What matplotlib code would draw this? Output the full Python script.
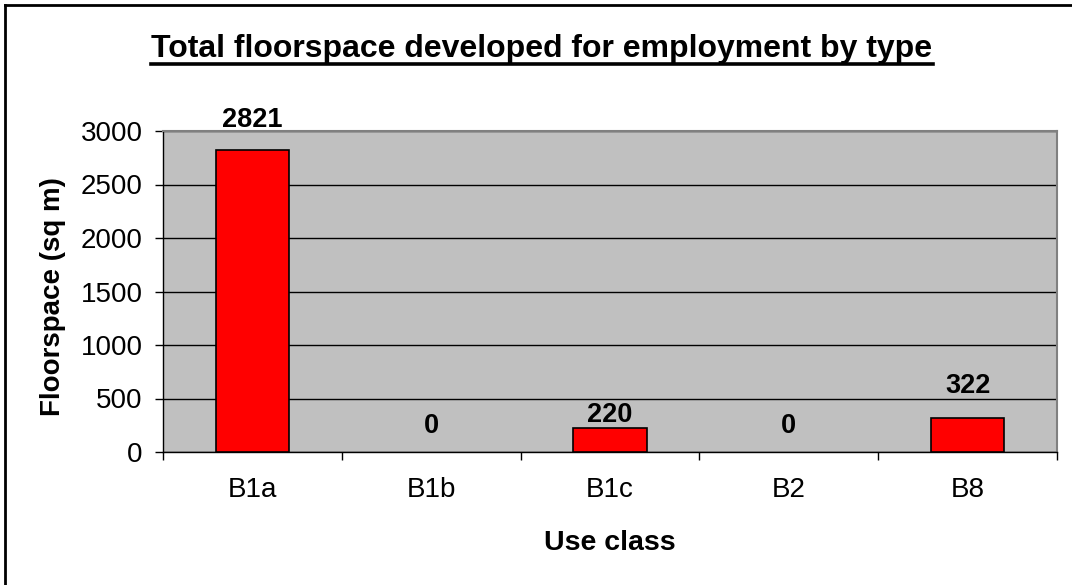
import matplotlib
matplotlib.use("Agg")
import matplotlib.pyplot as plt
from matplotlib.lines import Line2D

categories = ["B1a", "B1b", "B1c", "B2", "B8"]
values = [2821, 0, 220, 0, 322]
yticks = [0, 500, 1000, 1500, 2000, 2500, 3000]

# styling: vertical gap (points) between bar top and label baseline, as in the original
label_gaps = [16.5, 13.7, 4.3, 13.7, 18.0]

plt.rcParams['font.family'] = ['Liberation Sans', 'DejaVu Sans']

W, H = 1072, 585
fig = plt.figure(figsize=(W/100, H/100), dpi=100)
ax = fig.add_axes([163/W, 1-452/H, (1057-163)/W, (452-131)/H])
ax.set_facecolor('#c0c0c0')

x = list(range(len(categories)))
edges = ['black' if v > 0 else 'none' for v in values]
ax.bar(x, values, width=0.41, color='#ff0000', edgecolor=edges, linewidth=1.2, zorder=3)
for xi, v, g in zip(x, values, label_gaps):
    ax.annotate(str(v), (xi, v), xytext=(0, g), textcoords='offset points',
                ha='center', va='baseline', fontsize=19.5, fontweight='bold')

ax.set_xlim(-0.5, len(categories) - 0.5)
ax.set_ylim(0, 3000)
ax.set_yticks(yticks)
ax.set_yticklabels([str(t) for t in yticks], fontsize=20)
ax.yaxis.grid(True, color='black', linewidth=1)
ax.set_axisbelow(True)

ax.set_xticks(x)
ax.set_xticklabels(categories, fontsize=20)
ax.tick_params(axis='x', length=0, pad=18)
ax.set_xticks([i - 0.5 for i in range(len(categories) + 1)], minor=True)
ax.tick_params(axis='x', which='minor', length=5.8, width=1, color='black')
ax.tick_params(axis='y', length=5.8, width=1, pad=9)

for s in ['top', 'right']:
    ax.spines[s].set_color('#808080')
    ax.spines[s].set_linewidth(1.5)
for s in ['left', 'bottom']:
    ax.spines[s].set_color('black')
    ax.spines[s].set_linewidth(1)

ax.set_ylabel("Floorspace (sq m)", fontsize=20, fontweight='bold')
ax.yaxis.set_label_coords((66-163)/894, (452-297)/321)
ax.set_xlabel("Use class", fontsize=20.5, fontweight='bold')
ax.xaxis.label.set_va('baseline')
ax.xaxis.set_label_coords((610-163)/894, (452-550)/321)

t = fig.text(542/W, 1-57/H, "Total floorspace developed for employment by type",
             ha='center', va='baseline', fontsize=23, fontweight='bold')

# Title underline and figure frame
fig.canvas.draw()
bb = t.get_window_extent()
uy = 1 - 63.5/H
fig.add_artist(Line2D([bb.x0/W, bb.x1/W], [uy, uy], color='black', linewidth=2.6, transform=fig.transFigure))
fig.add_artist(Line2D([5/W, 5/W], [0, 1-5/H], color='black', linewidth=2, transform=fig.transFigure))
fig.add_artist(Line2D([5/W, 1], [1-5/H, 1-5/H], color='black', linewidth=2, transform=fig.transFigure))

fig.savefig("out.png", dpi=100)
